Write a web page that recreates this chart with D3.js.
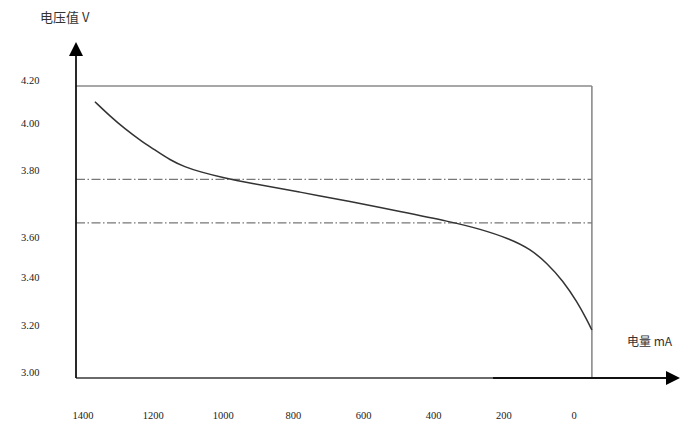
<!DOCTYPE html>
<html>
<head>
<meta charset="utf-8">
<script src="https://cdn.jsdelivr.net/npm/d3@7"></script>
<style>
  html, body { margin: 0; padding: 0; background: #fff; }
  svg { display: block; }
</style>
</head>
<body>
<svg id="chart" width="700" height="432"></svg>
<script>
// ---- data ----
const capacity = [1366, 1323, 1280, 1238, 1195, 1152, 1109, 1069, 998, 924, 781, 639, 496, 354, 268, 182, 125, 77, 31, -9, -37, -51];
const voltage  = [4.127, 4.060, 4.000, 3.953, 3.911, 3.868, 3.838, 3.819, 3.794, 3.779, 3.752, 3.724, 3.694, 3.664, 3.642, 3.612, 3.570, 3.500, 3.410, 3.321, 3.246, 3.204];
const refLines = [3.79, 3.66];
const yTickValues = [3.00, 3.20, 3.40, 3.60, 3.80, 4.00, 4.20];
const xTickValues = [1400, 1200, 1000, 800, 600, 400, 200, 0];
const yTitle = "电压值 V";
const xTitle = "电量 mA";
const frameRightValue = -51;

// ---- scales ----
const svg = d3.select("#chart");
const x = d3.scaleLinear().domain([1400, 0]).range([83, 574]);
// hand-drawn figure: tick spacing is uneven, so use a piecewise scale
const y = d3.scaleLinear().domain(yTickValues).range([378, 331, 283, 243, 176, 129, 86]);

const axisX = 76;            // y axis line x
const baseY = y(3.0);        // x axis line y
const topY = y(4.2);
const rightX = x(frameRightValue);

const serif = "Liberation Serif, DejaVu Serif, serif";

// frame (gray)
svg.append("line").attr("x1", axisX).attr("x2", rightX).attr("y1", topY).attr("y2", topY)
  .attr("stroke", "#8a8a8a").attr("stroke-width", 1.6);
svg.append("line").attr("x1", rightX).attr("x2", rightX).attr("y1", topY).attr("y2", baseY)
  .attr("stroke", "#8a8a8a").attr("stroke-width", 1.6);
svg.append("line").attr("x1", axisX).attr("x2", 493).attr("y1", baseY).attr("y2", baseY)
  .attr("stroke", "#6a6a6a").attr("stroke-width", 1.8);

// reference dash-dot lines
svg.selectAll("line.ref").data(refLines).enter().append("line")
  .attr("class", "ref")
  .attr("x1", axisX).attr("x2", rightX)
  .attr("y1", d => y(d)).attr("y2", d => y(d))
  .attr("stroke", "#777").attr("stroke-width", 1.3)
  .attr("stroke-dasharray", "9,2.5,1.5,2.5");

// x axis (black with arrow)
svg.append("line").attr("x1", 493).attr("x2", 668).attr("y1", baseY).attr("y2", baseY)
  .attr("stroke", "#111").attr("stroke-width", 1.8);
svg.append("path")
  .attr("d", `M${680},${baseY} L${666},${baseY - 7} L${666},${baseY + 7} Z`)
  .attr("fill", "#000");

// y axis (black with arrow)
svg.append("line").attr("x1", axisX).attr("x2", axisX).attr("y1", 54).attr("y2", baseY)
  .attr("stroke", "#111").attr("stroke-width", 1.8);
svg.append("path")
  .attr("d", `M${axisX},42 L${axisX - 7},56 L${axisX + 7},56 Z`)
  .attr("fill", "#000");

// y tick labels
svg.selectAll("text.yt").data(yTickValues).enter().append("text")
  .attr("class", "yt")
  .attr("x", 21).attr("y", d => y(d) - 6)
  .attr("dy", "0.35em")
  .style("font-family", serif).attr("font-size", 10.5).attr("fill", "#222")
  .text(d => d.toFixed(2));

// x tick labels
svg.selectAll("text.xt").data(xTickValues).enter().append("text")
  .attr("class", "xt")
  .attr("x", d => x(d)).attr("y", 415)
  .attr("dy", "0.35em").attr("text-anchor", "middle")
  .style("font-family", serif).attr("font-size", 10.5).attr("fill", "#222")
  .text(d => d);

// titles
svg.append("text").attr("x", 40).attr("y", 17).attr("dy", "0.35em")
  .style("font-family", "Noto Sans CJK SC, sans-serif").attr("font-size", 13).attr("fill", "#333")
  .text(yTitle);
svg.append("text").attr("x", 627).attr("y", 342).attr("dy", "0.35em")
  .style("font-family", "Noto Sans CJK SC, sans-serif").attr("font-size", 12).attr("fill", "#333")
  .text(xTitle);

// curve
const pts = capacity.map((c, i) => [c, voltage[i]]);
const line = d3.line().x(d => x(d[0])).y(d => y(d[1])).curve(d3.curveBasis);
svg.append("path").datum(pts)
  .attr("d", line)
  .attr("fill", "none").attr("stroke", "#333").attr("stroke-width", 1.5);
</script>
</body>
</html>
